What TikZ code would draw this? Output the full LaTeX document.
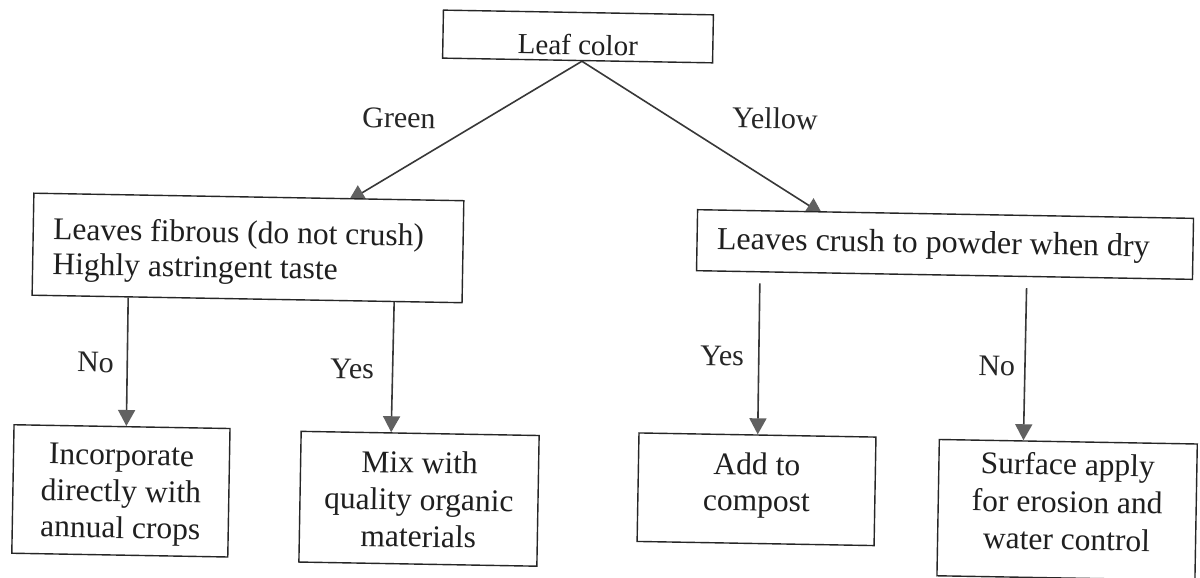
\documentclass[tikz,border=0pt]{standalone}
\usepackage{fontspec}
\setmainfont{Liberation Serif}
\usetikzlibrary{arrows.meta,calc,backgrounds}
\begin{document}
\begin{tikzpicture}[x=1pt,y=-1pt,
  box/.style={draw=black!85, fill=white, line width=1.4pt, inner sep=0pt, text=black!88, align=center},
  conn/.style={draw=black!78, line width=1.6pt, -{Triangle[length=16pt,width=17pt,color=black!62,fill=black!62]}},
  lbl/.style={font=\fontsize{30}{34}\selectfont, text=black!85, inner sep=0pt, anchor=base west}]
\useasboundingbox (0,0) rectangle (1200,578);
\begin{scope}[rotate around={-1:(600,289)}, transform shape]
\node[box, minimum width=270pt, font=\fontsize{29}{34}\selectfont] (leaf) at (573.6,36.9)
  {\rule{0pt}{42.5pt}Leaf color\rule[-5.5pt]{0pt}{0pt}};
\node[box, minimum width=430pt, text width=390pt, align=flush left, font=\fontsize{31.5}{35}\selectfont] (fib) at (247.3,254.1)
  {\rule{0pt}{46pt}Leaves fibrous (do not crush)\\Highly astringent taste\rule[-21pt]{0pt}{0pt}};
\node[box, minimum width=496pt, text width=456pt, align=flush left, font=\fontsize{32}{34}\selectfont] (crush) at (944.2,238.5)
  {\rule{0pt}{39pt}Leaves crush to powder when dry\rule[-22pt]{0pt}{0pt}};
\node[box, minimum width=216pt, font=\fontsize{31.5}{36.5}\selectfont] (inc) at (124.5,499.2)
  {\rule{0pt}{38.5pt}Incorporate\\directly with\\annual crops\rule[-17pt]{0pt}{0pt}};
\node[box, minimum width=238pt, font=\fontsize{31.5}{37}\selectfont] (mix) at (422.7,501.9)
  {\rule{0pt}{39.7pt}Mix with\\quality organic\\materials\rule[-17pt]{0pt}{0pt}};
\node[box, minimum width=237pt, font=\fontsize{31.5}{36}\selectfont] (comp) at (760.0,486.5)
  {\rule{0pt}{40pt}Add to\\compost\rule[-32.5pt]{0pt}{0pt}};
\node[box, minimum width=258pt, font=\fontsize{31.5}{37.5}\selectfont] (surf) at (1070.9,501.7)
  {\rule{0pt}{33.3pt}Surface apply\\for erosion and\\water control\rule[-28pt]{0pt}{0pt}};
\node[lbl] (lgreen) at (359.2,131.2) {Green};
\node[lbl] (lyellow) at (729.2,125.7) {Yellow};
\node[lbl] (lno1) at (78.4,381.1) {No};
\node[lbl] (lyes1) at (331.6,382.7) {Yes};
\node[lbl] (lyes2) at (701.3,363.3) {Yes};
\node[lbl] (lno2) at (979.5,368.4) {No};
\begin{scope}[on background layer]
\fill[white] (-60,-60) rectangle (1260,640);
\draw[conn, shorten >=-5.5pt] ($(leaf.south west)!0.516!(leaf.south east)$) -- ($(fib.north west)!0.742!(fib.north east)$);
\draw[conn, shorten >=-5.5pt] ($(leaf.south west)!0.516!(leaf.south east)$) -- ($(crush.north west)!0.243!(crush.north east)$);
\draw[conn] ($(fib.south west)!0.2244!(fib.south east)$) -- ($(inc.north west)!0.520!(inc.north east)$);
\draw[conn] ($(fib.south west)!0.841!(fib.south east)$) -- ($(mix.north west)!0.379!(mix.north east)$);
\draw[conn, shorten <=11pt] ($(crush.south west)!0.129!(crush.south east)$) -- ($(comp.north west)!0.501!(comp.north east)$);
\draw[conn, shorten <=11pt] ($(crush.south west)!0.6655!(crush.south east)$) -- ($(surf.north west)!0.327!(surf.north east)$);
\end{scope}
\end{scope}
\end{tikzpicture}
\end{document}
